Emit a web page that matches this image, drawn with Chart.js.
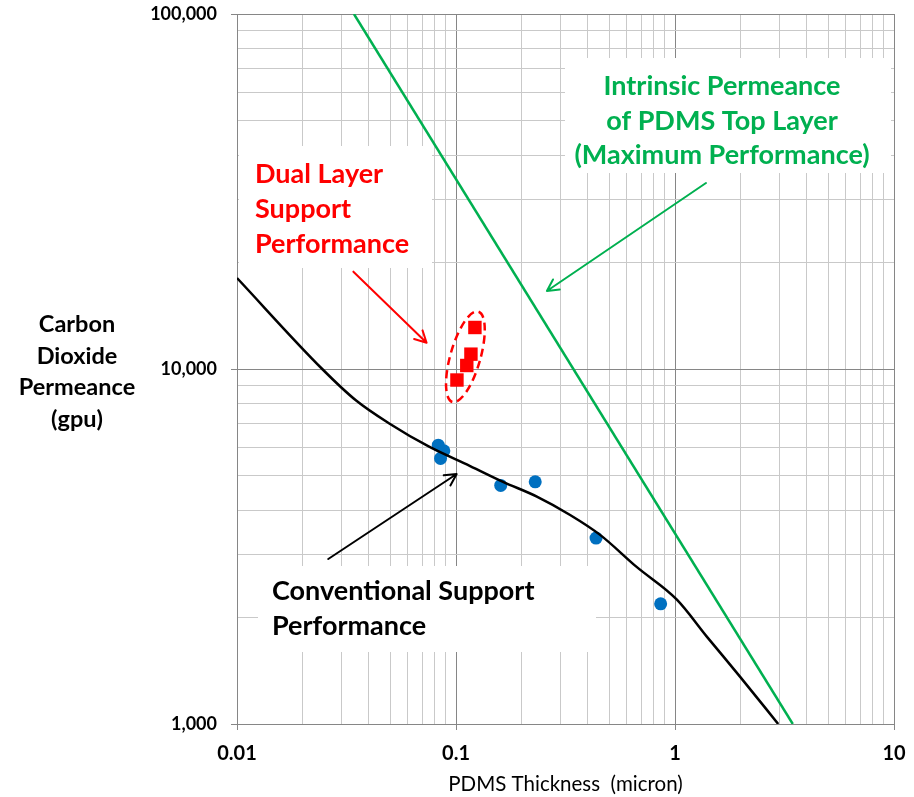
<!DOCTYPE html>
<html>
<head>
<meta charset="utf-8">
<script src="https://cdn.jsdelivr.net/npm/chart.js@4"></script>
<style>
  html, body { margin: 0; padding: 0; background: #ffffff; }
  canvas { display: block; }
</style>
</head>
<body>
<canvas id="chart" width="914" height="797"></canvas>
<script>
// PDMS thickness (micron) vs CO2 permeance (gpu)

// Conventional support: measured points
const convThickness = [0.083, 0.088, 0.085, 0.160, 0.230, 0.436, 0.860];
const convPermeance = [6100, 5880, 5600, 4700, 4810, 3340, 2180];

// Dual layer support: measured points
const dualThickness = [0.101, 0.112, 0.117, 0.122];
const dualPermeance = [9310, 10230, 11010, 13090];

// Conventional support trend curve
const trendThickness = [0.010, 0.0245, 0.035, 0.050, 0.075, 0.116, 0.164, 0.234, 0.332, 0.455, 0.668, 1.02, 1.40, 1.98, 2.96];
const trendPermeance = [18040, 10000, 8150, 7000, 6050, 5330, 4810, 4370, 3880, 3410, 2770, 2240, 1760, 1360, 1000];

// Intrinsic permeance of the PDMS top layer
const intrinsicThickness = [0.0342, 3.45];
const intrinsicPermeance = [100000, 1000];

// Axis ticks (decades) and their labels
const xDecades = [0.01, 0.1, 1, 10];
const xLabels = ['0.01', '0.1', '1', '10'];
const yDecades = [1000, 10000, 100000];
const yLabels = ['1,000', '10,000', '100,000'];

const GREEN = '#00B050';
const RED = '#FF0000';
const BLUE = '#0070C0';
const MAJOR_GRID = '#868686';
const MINOR_GRID = '#c9c9c9';
const FONT = 'Lato, "Open Sans", "DejaVu Sans", sans-serif';

const pts = (xs, ys) => xs.map((x, i) => ({ x: x, y: ys[i] }));

function isDecade(v) {
  const l = Math.log10(v);
  return Math.abs(l - Math.round(l)) < 1e-6;
}

// 1..9 x 10^n gridlines between the decade ticks
function decadeGrid(decades) {
  const out = [];
  for (let i = 0; i < decades.length - 1; i++) {
    for (let m = 1; m <= 9; m++) out.push({ value: m * decades[i] });
  }
  out.push({ value: decades[decades.length - 1] });
  return out;
}

function labelFor(value, decades, labels) {
  for (let i = 0; i < decades.length; i++) {
    if (Math.abs(value / decades[i] - 1) < 1e-6) return labels[i];
  }
  return '';
}

// Callouts: white label panels, text lines, arrows (data coordinates)
const panels = [
  { x: 239, y: 146, w: 193, h: 122 },
  { x: 565, y: 58, w: 326, h: 115 },
  { x: 258, y: 566, w: 338, h: 86 }
];

const labelsText = [
  { lines: ['Dual Layer', 'Support', 'Performance'], x: 255, y: 183, step: 35, color: RED, align: 'left' },
  { lines: ['Intrinsic Permeance', 'of PDMS Top Layer', '(Maximum Performance)'], x: 722, y: 95, step: 34.5, color: GREEN, align: 'center' },
  { lines: ['Conventional Support', 'Performance'], x: 272, y: 600, step: 35, color: '#000000', align: 'left' }
];

const arrows = [
  { from: [0.034, 18800], to: [0.0734, 11860], color: RED },
  { from: [1.385, 33420], to: [0.260, 16590], color: GREEN },
  { from: [0.0261, 2916], to: [0.1007, 5060], color: '#000000' }
];

function drawArrow(ctx, x1, y1, x2, y2, color) {
  const ang = Math.atan2(y2 - y1, x2 - x1);
  const head = 13;
  const spread = Math.PI / 6.5;
  ctx.save();
  ctx.strokeStyle = color;
  ctx.lineWidth = 2;
  ctx.lineCap = 'round';
  ctx.lineJoin = 'round';
  ctx.beginPath();
  ctx.moveTo(x1, y1);
  ctx.lineTo(x2, y2);
  ctx.moveTo(x2 - head * Math.cos(ang - spread), y2 - head * Math.sin(ang - spread));
  ctx.lineTo(x2, y2);
  ctx.lineTo(x2 - head * Math.cos(ang + spread), y2 - head * Math.sin(ang + spread));
  ctx.stroke();
  ctx.restore();
}

const callouts = {
  id: 'callouts',
  beforeDatasetsDraw(chart) {
    const ctx = chart.ctx;
    ctx.save();
    ctx.fillStyle = '#ffffff';
    panels.forEach(p => ctx.fillRect(p.x, p.y, p.w, p.h));
    ctx.restore();
  },
  afterDatasetsDraw(chart) {
    const ctx = chart.ctx;
    const xs = chart.scales.x, ys = chart.scales.y;

    // dashed ring around the dual layer points
    const dx = dualThickness.map(v => xs.getPixelForValue(v));
    const dy = dualPermeance.map(v => ys.getPixelForValue(v));
    const cx = dx.reduce((a, b) => a + b, 0) / dx.length - 2;
    const cy = dy.reduce((a, b) => a + b, 0) / dy.length;
    ctx.save();
    ctx.strokeStyle = RED;
    ctx.lineWidth = 2.5;
    ctx.setLineDash([8, 5]);
    ctx.beginPath();
    ctx.ellipse(cx, cy, 15, 47, 16 * Math.PI / 180, 0, Math.PI * 2);
    ctx.stroke();
    ctx.restore();

    arrows.forEach(a => {
      drawArrow(ctx,
        xs.getPixelForValue(a.from[0]), ys.getPixelForValue(a.from[1]),
        xs.getPixelForValue(a.to[0]), ys.getPixelForValue(a.to[1]), a.color);
    });

    ctx.save();
    ctx.font = 'bold 27px ' + FONT;
    ctx.textBaseline = 'alphabetic';
    labelsText.forEach(t => {
      ctx.fillStyle = t.color;
      ctx.textAlign = t.align;
      t.lines.forEach((ln, i) => ctx.fillText(ln, t.x, t.y + i * t.step));
    });
    ctx.restore();
  },
  afterDraw(chart) {
    // vertical axis title, horizontal lines
    const ctx = chart.ctx;
    ctx.save();
    ctx.font = 'bold 23.5px ' + FONT;
    ctx.fillStyle = '#000000';
    ctx.textAlign = 'center';
    ctx.textBaseline = 'alphabetic';
    ['Carbon', 'Dioxide', 'Permeance', '(gpu)'].forEach((ln, i) => ctx.fillText(ln, 77, 332 + i * 31.5));
    ctx.restore();
  }
};

new Chart(document.getElementById('chart'), {
  type: 'scatter',
  data: {
    datasets: [
      {
        label: 'Conventional trend',
        data: pts(trendThickness, trendPermeance),
        showLine: true,
        borderColor: '#000000',
        borderWidth: 2.5,
        pointRadius: 0,
        cubicInterpolationMode: 'monotone'
      },
      {
        label: 'Intrinsic permeance',
        data: pts(intrinsicThickness, intrinsicPermeance),
        showLine: true,
        borderColor: GREEN,
        borderWidth: 2.5,
        pointRadius: 0
      },
      {
        label: 'Conventional support',
        data: pts(convThickness, convPermeance),
        pointStyle: 'circle',
        pointRadius: 6.5,
        backgroundColor: BLUE,
        borderColor: BLUE,
        borderWidth: 0
      },
      {
        label: 'Dual layer support',
        data: pts(dualThickness, dualPermeance),
        pointStyle: 'rect',
        pointRadius: 9.5,
        backgroundColor: RED,
        borderColor: RED,
        borderWidth: 0
      }
    ]
  },
  options: {
    responsive: false,
    animation: false,
    devicePixelRatio: 1,
    layout: { padding: { top: 14, right: 20, bottom: 0, left: 0 } },
    plugins: {
      legend: { display: false },
      tooltip: { enabled: false }
    },
    scales: {
      x: {
        type: 'logarithmic',
        position: 'bottom',
        min: 0.01,
        max: 10,
        afterBuildTicks: s => { s.ticks = decadeGrid(xDecades); },
        afterFit: s => { s.height = 73; s.paddingLeft = 0; s.paddingRight = 0; },
        grid: {
          color: c => isDecade(c.tick.value) ? MAJOR_GRID : MINOR_GRID,
          tickColor: c => isDecade(c.tick.value) ? MAJOR_GRID : 'rgba(0,0,0,0)',
          tickLength: 6,
          lineWidth: 1
        },
        border: { color: MAJOR_GRID, width: 1 },
        ticks: {
          autoSkip: false,
          maxRotation: 0,
          padding: 12,
          color: '#000000',
          font: { family: FONT, size: 20, weight: 'bold' },
          callback: v => labelFor(v, xDecades, xLabels)
        },
        title: {
          display: true,
          text: 'PDMS Thickness  (micron)',
          color: '#000000',
          font: { family: FONT, size: 20.5 },
          padding: { top: 0, bottom: 0 }
        }
      },
      y: {
        type: 'logarithmic',
        position: 'left',
        min: 1000,
        max: 100000,
        afterBuildTicks: s => { s.ticks = decadeGrid(yDecades); },
        afterFit: s => { s.width = 237; s.paddingTop = 0; s.paddingBottom = 0; },
        grid: {
          color: c => isDecade(c.tick.value) ? MAJOR_GRID : MINOR_GRID,
          tickColor: c => isDecade(c.tick.value) ? MAJOR_GRID : 'rgba(0,0,0,0)',
          tickLength: 6,
          lineWidth: 1
        },
        border: { color: MAJOR_GRID, width: 1 },
        ticks: {
          autoSkip: false,
          padding: 14,
          color: '#000000',
          font: { family: FONT, size: 18, weight: 'bold' },
          callback: v => labelFor(v, yDecades, yLabels)
        }
      }
    }
  },
  plugins: [callouts]
});
</script>
</body>
</html>
